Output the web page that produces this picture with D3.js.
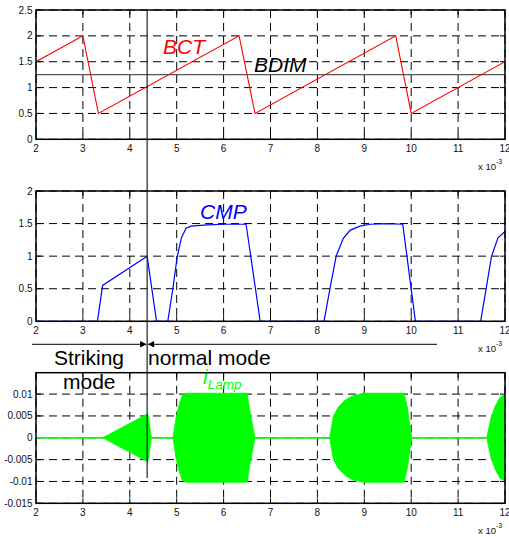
<!DOCTYPE html>
<html><head><meta charset="utf-8">
<script src="https://cdn.jsdelivr.net/npm/d3@7"></script>
<style>
body{margin:0;background:#fff}
svg{display:block}
text{font-family:"Liberation Sans",Arial,Helvetica,sans-serif}
</style>
</head><body>
<svg id="chart" width="509" height="537"></svg>
<script>
// ---------- data ----------
const xTickValues = [2, 3, 4, 5, 6, 7, 8, 9, 10, 11, 12];

const bctTimes  = [2, 3, 3.33, 6.33, 6.67, 9.67, 10, 12];
const bctValues = [1.5, 2, 0.5, 2, 0.5, 2, 0.5, 1.5];
const bdimLevel = 1.25;

const cmpTimes  = [2, 3.31, 3.42, 4.37, 4.57, 4.81, 4.92, 5.01, 5.10, 5.20, 5.30, 5.45, 5.65, 6.0, 6.48, 6.78,
                   8.14, 8.27, 8.40, 8.55, 8.70, 8.91, 9.12, 9.5, 9.82, 10.09, 11.48, 11.60, 11.71, 11.85, 12.0];
const cmpValues = [0, 0, 0.55, 1.0, 0, 0, 0.51, 0.99, 1.28, 1.43, 1.46, 1.47, 1.48, 1.49, 1.49, 0,
                   0, 0.51, 1.0, 1.27, 1.40, 1.46, 1.49, 1.50, 1.49, 0, 0, 0.51, 0.99, 1.28, 1.38];

const lampTimes     = [2, 3.42, 4.38, 4.40, 4.46, 4.92, 4.99, 5.06, 5.12, 5.20, 6.50, 6.56, 6.67,
                       8.26, 8.34, 8.45, 8.60, 8.77, 8.99, 9.85, 9.92, 10.01, 11.61, 11.70, 11.79, 11.89, 12.0];
const lampAmplitude = [0, 0, 0.0055, 0.0047, 0, 0, 0.0049, 0.0079, 0.0098, 0.0102, 0.0102, 0.0062, 0,
                       0, 0.0049, 0.0071, 0.0087, 0.0097, 0.0102, 0.0102, 0.0068, 0, 0, 0.0045, 0.0072, 0.0092, 0.0100];

const modeSwitchTime = 4.37;

const yTicks1 = [0, 0.5, 1, 1.5, 2, 2.5];
const yTickLabels1 = ["0", "0.5", "1", "1.5", "2", "2.5"];
const yTicks2 = [0, 0.5, 1, 1.5, 2];
const yTickLabels2 = ["0", "0.5", "1", "1.5", "2"];
const yTicks3 = [-0.015, -0.01, -0.005, 0, 0.005, 0.01];
const yTickLabels3 = ["-0.015", "-0.01", "-0.005", "0", "0.005", "0.01"];

// ---------- layout ----------
const svg = d3.select("#chart");
const left = 36, right = 505;
const x = d3.scaleLinear().domain([2, 12]).range([left, right]);

const panels = [
  {top: 10,    bottom: 139.3, domain: [0, 2.5],       ticks: yTicks1, labels: yTickLabels1},
  {top: 191,   bottom: 321.3, domain: [0, 2],         ticks: yTicks2, labels: yTickLabels2},
  {top: 372.7, bottom: 503.3, domain: [-0.015, 0.0149], ticks: yTicks3, labels: yTickLabels3}
];
panels.forEach(p => { p.y = d3.scaleLinear().domain(p.domain).range([p.bottom, p.top]); });

const defs = svg.append("defs");
panels.forEach((p, i) => {
  defs.append("clipPath").attr("id", "clip" + i)
    .append("rect").attr("x", left).attr("y", p.top).attr("width", right - left).attr("height", p.bottom - p.top);
});

function drawFrame(p, i) {
  const g = svg.append("g");
  // grid
  xTickValues.forEach(v => {
    g.append("line").attr("x1", x(v)).attr("x2", x(v)).attr("y1", p.top).attr("y2", p.bottom)
      .attr("stroke", "#000").attr("stroke-width", 1).attr("stroke-dasharray", "8,5");
  });
  p.ticks.forEach(v => {
    g.append("line").attr("x1", left).attr("x2", right).attr("y1", p.y(v)).attr("y2", p.y(v))
      .attr("stroke", "#000").attr("stroke-width", 1).attr("stroke-dasharray", "8,5");
  });
  // ticks inside
  xTickValues.forEach(v => {
    g.append("line").attr("x1", x(v)).attr("x2", x(v)).attr("y1", p.bottom).attr("y2", p.bottom - 5).attr("stroke", "#000");
    g.append("line").attr("x1", x(v)).attr("x2", x(v)).attr("y1", p.top).attr("y2", p.top + 5).attr("stroke", "#000");
  });
  p.ticks.forEach(v => {
    g.append("line").attr("x1", left).attr("x2", left + 5).attr("y1", p.y(v)).attr("y2", p.y(v)).attr("stroke", "#000");
    g.append("line").attr("x1", right).attr("x2", right - 5).attr("y1", p.y(v)).attr("y2", p.y(v)).attr("stroke", "#000");
  });
  // tick labels
  xTickValues.forEach(v => {
    g.append("text").attr("x", x(v)).attr("y", p.bottom + 13).attr("text-anchor", "middle")
      .attr("font-size", 10).attr("fill", "#111").text(v);
  });
  p.ticks.forEach((v, k) => {
    g.append("text").attr("x", left - 3.5).attr("y", p.y(v) + 3.5).attr("text-anchor", "end")
      .attr("font-size", 10).attr("fill", "#111").text(p.labels[k]);
  });
  // exponent label
  const t = g.append("text").attr("x", 478).attr("y", p.bottom + 30.5).attr("font-size", 9.5).attr("fill", "#111");
  t.append("tspan").text("x 10");
  t.append("tspan").attr("dy", -6).attr("font-size", 7).text("-3");
}

function drawBox(p) {
  svg.append("rect").attr("x", left).attr("y", p.top).attr("width", right - left).attr("height", p.bottom - p.top)
    .attr("fill", "none").attr("stroke", "#000").attr("stroke-width", 1.5);
}

panels.forEach(drawFrame);

// ---------- panel 1: BCT & BDIM ----------
const p1 = panels[0];
const bctData = bctTimes.map((t, i) => [t, bctValues[i]]);
svg.append("g").attr("clip-path", "url(#clip0)")
  .append("line").attr("x1", x(2)).attr("x2", x(12)).attr("y1", p1.y(bdimLevel)).attr("y2", p1.y(bdimLevel))
  .attr("stroke", "#555").attr("stroke-width", 1.4);
svg.append("path").datum(bctData).attr("clip-path", "url(#clip0)")
  .attr("d", d3.line().x(d => x(d[0])).y(d => p1.y(d[1])))
  .attr("fill", "none").attr("stroke", "#ff0000").attr("stroke-width", 1.1);
svg.append("text").attr("x", 163).attr("y", 54).attr("font-size", 21).attr("font-style", "italic")
  .attr("fill", "#ff0000").text("BCT");
svg.append("text").attr("x", 254).attr("y", 71.5).attr("font-size", 21).attr("font-style", "italic")
  .attr("fill", "#000").text("BDIM");

// ---------- panel 2: CMP ----------
const p2 = panels[1];
const cmpData = cmpTimes.map((t, i) => [t, cmpValues[i]]);
svg.append("path").datum(cmpData).attr("clip-path", "url(#clip1)")
  .attr("d", d3.line().x(d => x(d[0])).y(d => p2.y(d[1])))
  .attr("fill", "none").attr("stroke", "#0000ff").attr("stroke-width", 1.2);
svg.append("text").attr("x", 200).attr("y", 219).attr("font-size", 21).attr("font-style", "italic")
  .attr("fill", "#0000ff").text("CMP");

// ---------- panel 3: iLamp ----------
const p3 = panels[2];
const lampData = lampTimes.map((t, i) => [t, lampAmplitude[i]]);
svg.append("path").datum(lampData).attr("clip-path", "url(#clip2)")
  .attr("d", d3.area().x(d => x(d[0])).y0(d => p3.y(-d[1])).y1(d => p3.y(d[1])))
  .attr("fill", "#00ff00").attr("stroke", "#00ff00").attr("stroke-width", 0.8);
svg.append("line").attr("x1", x(2)).attr("x2", x(12)).attr("y1", p3.y(0)).attr("y2", p3.y(0))
  .attr("stroke", "#00ff00").attr("stroke-width", 1.5);
const il = svg.append("text").attr("x", 203).attr("y", 384).attr("fill", "#00ff00").attr("font-style", "italic");
il.append("tspan").attr("font-size", 21).text("i");
il.append("tspan").attr("font-size", 13.5).attr("dy", 4.5).text("Lamp");

panels.forEach(drawBox);

// ---------- mode switch marker ----------
svg.append("line").attr("x1", x(modeSwitchTime)).attr("x2", x(modeSwitchTime)).attr("y1", p1.top).attr("y2", 478)
  .attr("stroke", "#222").attr("stroke-width", 1.2);

const arrowY = 344.3;
const xs = x(modeSwitchTime);
svg.append("line").attr("x1", 32).attr("x2", xs - 1).attr("y1", arrowY).attr("y2", arrowY).attr("stroke", "#000").attr("stroke-width", 1);
svg.append("line").attr("x1", xs + 1).attr("x2", 437).attr("y1", arrowY).attr("y2", arrowY).attr("stroke", "#000").attr("stroke-width", 1);
svg.append("path").attr("d", `M${xs - 0.5},${arrowY} L${xs - 7},${arrowY - 3.2} L${xs - 7},${arrowY + 3.2} Z`).attr("fill", "#000");
svg.append("path").attr("d", `M${xs + 0.8},${arrowY} L${xs + 7},${arrowY - 3.2} L${xs + 7},${arrowY + 3.2} Z`).attr("fill", "#000");

svg.append("text").attr("x", 54).attr("y", 365).attr("font-size", 21).attr("fill", "#000").text("Striking");
svg.append("text").attr("x", 63).attr("y", 389).attr("font-size", 21).attr("fill", "#000").text("mode");
svg.append("text").attr("x", 148).attr("y", 365).attr("font-size", 21).attr("fill", "#000").text("normal mode");
</script>
</body></html>
